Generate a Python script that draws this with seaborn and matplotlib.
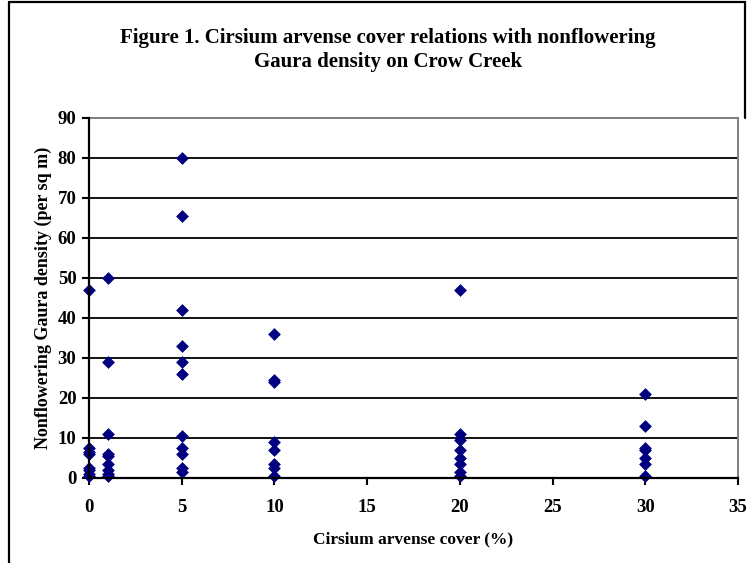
import matplotlib
matplotlib.use("Agg")
import matplotlib.pyplot as plt
from matplotlib.lines import Line2D
import seaborn as sns
import pandas as pd

# Nonflowering Gaura density (per sq m) observed at each Cirsium arvense cover class
cover_0 = [47, 7.5, 6.5, 6, 2.5, 2, 1, 0.5]
cover_1 = [50, 29, 11, 6, 5.5, 3.5, 2, 1, 0.5]
cover_5 = [80, 65.5, 42, 33, 29, 26, 10.5, 7.5, 6, 2.5, 1.5]
cover_10 = [36, 24.5, 24, 9, 7, 3.5, 2.5, 0.5]
cover_20 = [47, 11, 9.5, 7, 5, 3.5, 1.5, 0.5]
cover_30 = [21, 13, 7.5, 7, 5, 3.5, 0.5]

cover_classes = [0, 1, 5, 10, 20, 30]
densities = [cover_0, cover_1, cover_5, cover_10, cover_20, cover_30]

x_ticks = [0, 5, 10, 15, 20, 25, 30, 35]
y_ticks = [0, 10, 20, 30, 40, 50, 60, 70, 80, 90]

rows = [(c, d) for c, vals in zip(cover_classes, densities) for d in vals]
df = pd.DataFrame(rows, columns=["cover", "density"])

sns.set_theme(style="white")
plt.rcParams["font.family"] = ["Liberation Serif", "DejaVu Serif"]
plt.rcParams["font.weight"] = "bold"
plt.rcParams["text.color"] = "black"
plt.rcParams["axes.labelcolor"] = "black"
plt.rcParams["xtick.color"] = "black"
plt.rcParams["ytick.color"] = "black"

fig = plt.figure(figsize=(7.54, 5.63), dpi=100)
ax = fig.add_axes([89 / 754, 85 / 563, (738 - 89) / 754, (478 - 118) / 563])

sns.scatterplot(data=df, x="cover", y="density", marker="D", s=36,
                color="#000080", edgecolor="#000080", linewidth=0.5,
                ax=ax, zorder=3, clip_on=False)

ax.set_xlim(0, 35)
ax.set_ylim(0, 90)
ax.set_xticks(x_ticks)
ax.set_yticks(y_ticks)
ax.set_xticklabels([str(t) for t in x_ticks], fontsize=13.5, fontweight="bold", color="black")
ax.set_yticklabels([str(t) for t in y_ticks], fontsize=13.5, fontweight="bold", color="black")
ax.tick_params(axis="both", which="major", direction="out", length=5,
               width=1.5, color="black", bottom=True, left=True)
ax.tick_params(axis="x", pad=10)
ax.tick_params(axis="y", pad=4)

ax.yaxis.grid(True, color="black", linewidth=1.3)
ax.xaxis.grid(False)
ax.set_axisbelow(True)

for side in ("left", "bottom"):
    ax.spines[side].set_color("black")
    ax.spines[side].set_linewidth(1.6)
for side in ("top", "right"):
    ax.spines[side].set_color("#808080")
    ax.spines[side].set_linewidth(1.4)
ax.spines["left"].set_zorder(4)
ax.spines["bottom"].set_zorder(4)

ax.set_xlabel("Cirsium arvense cover (%)", fontsize=12.5, fontweight="bold",
              labelpad=11, color="black")
ax.set_ylabel("Nonflowering Gaura density (per sq m)", fontsize=13,
              fontweight="bold", labelpad=4, color="black")

fig.text(388 / 754, 1 - 38 / 563,
         "Figure 1. Cirsium arvense cover relations with nonflowering",
         ha="center", va="center", fontsize=15, fontweight="bold", color="black")
fig.text(388 / 754, 1 - 62 / 563, "Gaura density on Crow Creek",
         ha="center", va="center", fontsize=15, fontweight="bold", color="black")

# chart frame
frame_kw = dict(color="black", linewidth=1.6, transform=fig.transFigure)
fig.add_artist(Line2D([9 / 754, 9 / 754], [0, 1 - 2 / 563], **frame_kw))
fig.add_artist(Line2D([9 / 754, 745 / 754], [1 - 2 / 563, 1 - 2 / 563], **frame_kw))
fig.add_artist(Line2D([745 / 754, 745 / 754], [1 - 2 / 563, 1 - 118 / 563], **frame_kw))

fig.savefig("out.png", dpi=100, facecolor="white")
